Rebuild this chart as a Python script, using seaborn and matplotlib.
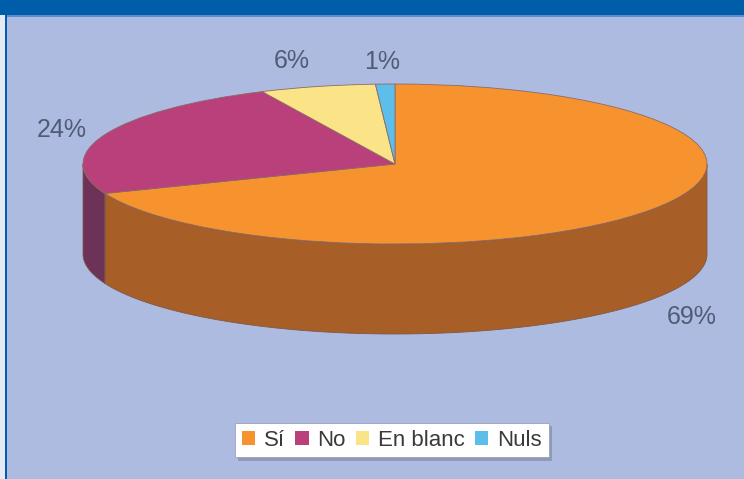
import numpy as np
import matplotlib
matplotlib.use("Agg")
import matplotlib.pyplot as plt
from matplotlib.patches import Rectangle, Patch
import seaborn as sns

# data
labels = ["Sí", "No", "En blanc", "Nuls"]
shares = [69, 24, 6, 1]
top_colors = ["#F7932F", "#B9407B", "#FBE487", "#5DBEE9"]
side_colors = ["#A75E27", "#6D3258", "#B8A45E", "#3F86A6"]

# label distance from centre (in radii), layout only
label_r = [1.15, 1.15, 1.33, 1.28]

BG = "#AEBBE0"
BAND = "#005DAA"
TEXT = "#505B76"

sns.set_theme(style="white")
plt.rcParams["font.family"] = ["Liberation Sans", "DejaVu Sans"]

W, H = 744, 479
fig = plt.figure(figsize=(W / 100, H / 100), dpi=100, facecolor=BG)
ax = fig.add_axes([0, 0, 1, 1])
ax.set_facecolor(BG)

# pie geometry in pixels (ellipse for the 3d look)
cx, cy, rx, ry, depth_px = 395, 164, 312, 80, 90
depth = depth_px / ry

wedges, _ = ax.pie(shares, colors=top_colors, startangle=90, counterclock=False,
                   radius=1, center=(0, 0), frame=True,
                   wedgeprops=dict(linewidth=0.6, edgecolor="#8c6a66", zorder=3))
ax.set_aspect("auto")
ax.set_xlim(-cx / rx, (W - cx) / rx)
ax.set_ylim(-(H - cy) / ry, cy / ry)
ax.axis("off")

# side walls of the front half
for w, sc in zip(wedges, side_colors):
    th = np.radians(np.linspace(w.theta1, w.theta2, 600))
    th = th[np.sin(th) <= 1e-9]
    if len(th) < 2:
        continue
    xs = np.cos(th)
    ys = np.sin(th)
    px = np.concatenate([xs, xs[::-1]])
    py = np.concatenate([ys, ys[::-1] - depth])
    ax.fill(px, py, color=sc, linewidth=0.6, edgecolor="#7d5a4a", zorder=2)

# percentage labels
for w, v, r in zip(wedges, shares, label_r):
    mid = np.radians((w.theta1 + w.theta2) / 2)
    x = r * np.cos(mid)
    y = r * np.sin(mid)
    if y < 0:
        y -= depth + 0.14
    ax.text(x, y, f"{v}%", ha="center", va="center",
            fontsize=18, color=TEXT, zorder=5)

handles = [Patch(facecolor=c, edgecolor="none") for c in top_colors]
leg = fig.legend(handles, labels, loc="center", bbox_to_anchor=(392 / W, 1 - 440 / H),
                 ncol=4, frameon=True, fancybox=False, fontsize=16,
                 handlelength=0.6, handleheight=0.6, handletextpad=0.4,
                 columnspacing=0.45, borderpad=0.3, borderaxespad=0,
                 shadow={"color": "#8e98b8", "alpha": 1})
leg.get_frame().set_facecolor("white")
leg.get_frame().set_edgecolor("#9aa2b8")
leg.get_frame().set_linewidth(0.6)
for t in leg.get_texts():
    t.set_color("#3a3a3a")

# frame decoration
fig.patches.append(Rectangle((0, 1 - 15 / H), 1, 15 / H, transform=fig.transFigure,
                             facecolor=BAND, edgecolor="none", zorder=10))
fig.patches.append(Rectangle((0, 1 - 16.5 / H), 1, 1.5 / H, transform=fig.transFigure,
                             facecolor="#5b8ccc", edgecolor="none", zorder=10))
fig.patches.append(Rectangle((0, 0), 5 / W, 1 - 15 / H, transform=fig.transFigure,
                             facecolor="#e4e9f4", edgecolor="none", zorder=10))
fig.patches.append(Rectangle((5 / W, 0), 2 / W, 1 - 15 / H, transform=fig.transFigure,
                             facecolor=BAND, edgecolor="none", zorder=10))

fig.savefig("out.png", dpi=100, facecolor=BG)
